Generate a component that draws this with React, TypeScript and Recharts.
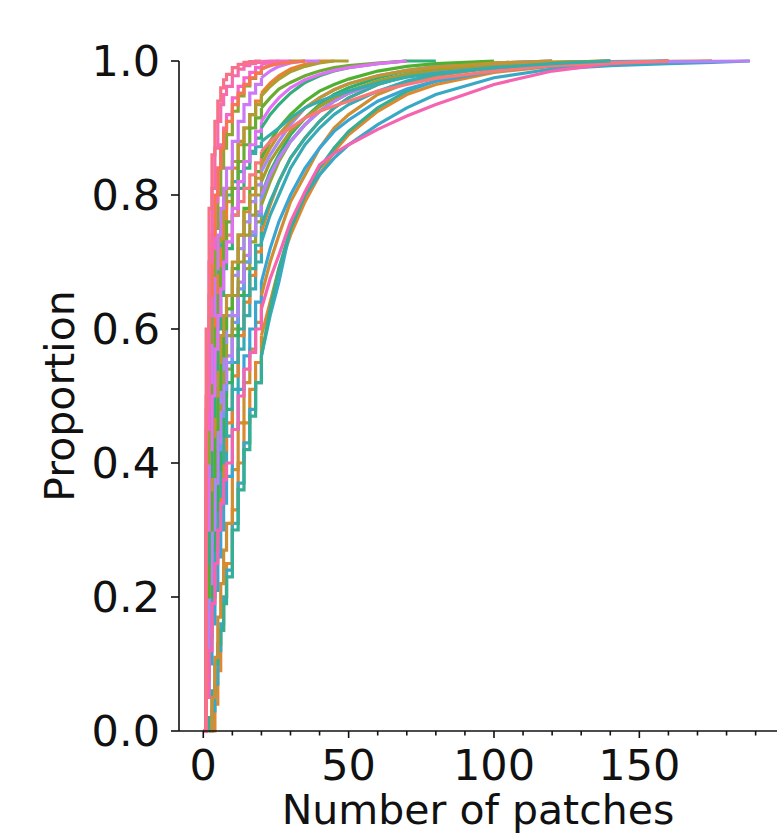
import React from 'react';
import { LineChart, Line, XAxis, YAxis } from 'recharts';

// shared x grid (number of patches) at which each ECDF value is read
const X_GRID = [0, 1, 2, 3, 4, 5, 6, 7, 8, 10, 12, 14, 16, 18, 20, 23, 26, 30, 35, 40, 45, 50, 60, 70, 80, 100, 120, 140, 160, 175, 188];
// beyond this x the steps are tiny, so the tail is drawn as a joined line
const STEP_LIMIT = 20;

const _ = null;

const S01 = [0, .6, .78, .86, .91, .94, .96, .972, .98, .99, .995, .998, .999, 1, 1];
const S02 = [0, .48, .7, .81, .87, .91, .935, .95, .962, .978, .988, .993, .996, .998, .999, 1, 1];
const S03 = [0, .45, .62, .72, .79, .84, .875, .9, .92, .945, .962, .975, .983, .99, .995, .998, 1, 1];
const S04 = [0, .4, .58, .68, .75, .8, .84, .87, .89, .925, .948, .963, .974, .982, .988, .994, .997, 1, 1];
const S05 = [0, .38, .52, .62, .69, .74, .78, .81, .84, .88, .91, .935, .952, .965, .975, .985, .992, .997, 1, 1];
const S06 = [0, .3, .45, .55, .62, .68, .72, .76, .79, .84, .875, .9, .92, .94, .952, .967, .978, .988, .995, 1, 1];
const S07 = [0, .42, .55, .63, .69, .73, .76, .79, .81, .85, .88, .9, .92, .935, .948, .962, .973, .984, .992, .997, 1, 1];
const S08 = [0, .25, .38, .47, .54, .6, .65, .69, .72, .77, .81, .84, .865, .885, .9, .92, .935, .952, .968, .978, .985, .99, .996, 1, 1];
const S09 = [0, .35, .5, .6, .67, .72, .76, .78, .8, .82, .835, .85, .862, .872, .88, .89, .9, .915, .93, .94, .948, .955, .967, .976, .982, .99, .996, 1];
const S10 = [0, .3, .45, .55, .62, .66, .69, .72, .74, .77, .79, .81, .83, .848, .865, .88, .89, .9, .915, .925, .933, .94, .955, .965, .974, .985, .993, .997, 1];
const S11 = [0, .05, .12, .19, .25, .3, .34, .375, .4, .45, .5, .54, .565, .6, .63, .675, .71, .76, .805, .845, .862, .875, .898, .918, .935, .965, .985, .996, 1];
const S12 = [_, _, 0, .03, .07, .12, .16, .2, .24, .31, .37, .43, .48, .52, .56, .62, .67, .75, .8, .83, .855, .875, .905, .93, .95, .975, .988, .993, .996, .998, 1];
const S13 = [_, _, _, 0, .04, .09, .15, .2, .25, .33, .4, .46, .51, .55, .59, .64, .69, .74, .79, .83, .865, .89, .925, .95, .965, .983, .992, .996, .998, 1];
const S14 = [_, 0, .02, .06, .1, .13, .15, .19, .23, .3, .36, .42, .47, .52, .56, .63, .69, .75, .8, .84, .87, .895, .93, .955, .97, .986, .994, .998, 1];
const S15 = [0, .2, .3, .38, .45, .51, .56, .6, .63, .69, .74, .78, .81, .835, .855, .88, .9, .92, .94, .955, .965, .973, .985, .992, .996, 1];
const S16 = [0, .15, .24, .31, .37, .42, .47, .51, .55, .61, .66, .7, .74, .77, .795, .83, .855, .88, .905, .925, .94, .952, .968, .978, .985, .993, .997, 1];
const S17 = [0, .25, .36, .44, .5, .55, .59, .62, .65, .7, .74, .775, .8, .825, .845, .87, .89, .91, .93, .945, .957, .966, .978, .986, .991, .997, 1];
const S18 = [0, .1, .2, .28, .35, .41, .46, .5, .54, .6, .65, .69, .73, .76, .785, .82, .85, .88, .905, .925, .94, .952, .97, .98, .987, .994, .998, 1];
const S19 = [0, .12, .2, .27, .33, .39, .44, .48, .52, .59, .65, .7, .74, .77, .8, .835, .86, .89, .915, .935, .95, .96, .975, .985, .991, .997, 1];
const S20 = [0, .05, .1, .16, .21, .26, .3, .34, .38, .45, .51, .56, .6, .64, .67, .72, .76, .8, .84, .87, .895, .912, .94, .958, .97, .985, .993, .997, 1];
const S21 = [0, .08, .15, .22, .28, .33, .38, .42, .46, .53, .59, .64, .68, .715, .745, .785, .82, .855, .885, .91, .93, .945, .965, .978, .986, .994, .998, 1];
const S22 = [0, .18, .28, .36, .43, .49, .54, .58, .62, .68, .72, .76, .79, .815, .835, .86, .88, .905, .93, .945, .957, .966, .978, .986, .992, .997, 1];
const S23 = [_, _, 0, .05, .11, .17, .22, .27, .31, .39, .46, .52, .57, .61, .65, .7, .74, .79, .83, .87, .9, .92, .95, .967, .978, .99, .996, .999, .9995, 1];
const S24 = [0, .1, .17, .24, .3, .35, .4, .44, .48, .55, .6, .65, .69, .725, .755, .79, .82, .855, .885, .91, .93, .945, .965, .977, .985, .993, .997, 1];
const S25 = [0, .3, .42, .5, .57, .62, .66, .7, .73, .78, .82, .85, .875, .895, .91, .93, .945, .96, .972, .98, .986, .99, .996, 1];
const S26 = [0, .5, .65, .74, .8, .84, .87, .895, .91, .935, .952, .965, .975, .982, .988, .993, .996, .998, 1];
const S27 = [0, .3, .44, .53, .6, .65, .69, .73, .76, .81, .85, .875, .9, .915, .93, .945, .958, .968, .978, .985, .99, .993, .997, 1];
const S28 = [0, .08, .14, .2, .26, .31, .36, .4, .44, .51, .57, .62, .66, .7, .73, .77, .8, .84, .875, .9, .92, .935, .955, .97, .98, .99, .996, .999, 1];
const S29 = [0, .12, .22, .3, .37, .43, .48, .52, .56, .62, .67, .71, .745, .775, .8, .83, .855, .88, .905, .925, .94, .952, .968, .978, .985, .993, .997, .998, .999, .9995, 1];
const S30 = [0, .2, .3, .37, .43, .48, .52, .56, .59, .65, .7, .74, .77, .8, .82, .85, .87, .895, .915, .932, .945, .955, .97, .98, .987, .994, .998, 1];

const SERIES = [
  { id: 's13', ys: S13, color: '#dc8932' },
  { id: 's12', ys: S12, color: '#38a8c4' },
  { id: 's14', ys: S14, color: '#35ae93' },
  { id: 's23', ys: S23, color: '#d08e32' },
  { id: 's20', ys: S20, color: '#3aa5d4' },
  { id: 's28', ys: S28, color: '#37abb5' },
  { id: 's21', ys: S21, color: '#e68332' },
  { id: 's24', ys: S24, color: '#36ada4' },
  { id: 's18', ys: S18, color: '#97a431' },
  { id: 's19', ys: S19, color: '#32b166' },
  { id: 's16', ys: S16, color: '#6e9bf4' },
  { id: 's29', ys: S29, color: '#b981f4' },
  { id: 's30', ys: S30, color: '#a39c31' },
  { id: 's22', ys: S22, color: '#a48cf4' },
  { id: 's15', ys: S15, color: '#50b131' },
  { id: 's17', ys: S17, color: '#c39532' },
  { id: 's08', ys: S08, color: '#33b07a' },
  { id: 's11', ys: S11, color: '#f564b0' },
  { id: 's10', ys: S10, color: '#f7797a' },
  { id: 's09', ys: S09, color: '#36adab' },
  { id: 's06', ys: S06, color: '#ee7f32' },
  { id: 's07', ys: S07, color: '#ae9d31' },
  { id: 's27', ys: S27, color: '#6aac31' },
  { id: 's25', ys: S25, color: '#e070f4' },
  { id: 's05', ys: S05, color: '#cc7af4' },
  { id: 's04', ys: S04, color: '#8ea531' },
  { id: 's03', ys: S03, color: '#f565cc' },
  { id: 's26', ys: S26, color: '#f7754f' },
  { id: 's02', ys: S02, color: '#f66bad' },
  { id: 's01', ys: S01, color: '#f77189' },
];

const X_TICKS = [0, 10, 20, 30, 40, 50, 60, 70, 80, 90, 100, 110, 120, 130, 140, 150, 160, 170, 180, 190];
const Y_TICKS = [0, 0.2, 0.4, 0.6, 0.8, 1.0];

const INK = '#111111';
const FONT = 'DejaVu Sans';

const toPoints = (ys: (number | null)[]) =>
  ys.map((y, i) => ({ x: X_GRID[i], y })).filter((p) => p.y !== null);

const headPoints = (ys: (number | null)[]) => toPoints(ys).filter((p) => p.x <= STEP_LIMIT);
const tailPoints = (ys: (number | null)[]) => toPoints(ys).filter((p) => p.x >= STEP_LIMIT);

const XTick = (props: any) => {
  const { x, y, payload } = props;
  const major = payload.value % 50 === 0;
  return (
    <g>
      <line x1={x} x2={x} y1={y} y2={y + (major ? 7 : 4.5)} stroke={INK} strokeWidth={1.6} />
      {major && (
        <text x={x} y={y + 49} textAnchor="middle" fontSize={43} fontFamily={FONT} fill={INK}>
          {payload.value}
        </text>
      )}
    </g>
  );
};

const XLabel = (props: any) => {
  const vb = props.viewBox || { x: 179, y: 731, width: 598, height: 104 };
  return (
    <text x={vb.x + vb.width / 2} y={vb.y + 93} textAnchor="middle" fontSize={41} fontFamily={FONT} fill={INK}>
      Number of patches
    </text>
  );
};

const YLabel = (props: any) => {
  const vb = props.viewBox || { x: 0, y: 61, width: 179, height: 670 };
  const cx = 74;
  const cy = vb.y + vb.height / 2;
  return (
    <text x={cx} y={cy} textAnchor="middle" fontSize={41} fontFamily={FONT} fill={INK} transform={`rotate(-90, ${cx}, ${cy})`}>
      Proportion
    </text>
  );
};

export default function App() {
  const tails = SERIES.map((s) => ({ ...s, pts: tailPoints(s.ys) })).filter((s) => s.pts.length >= 2);
  return (
    <div style={{ position: 'absolute', left: 0, top: 0, width: 778, height: 835, background: '#fff' }}>
      <LineChart width={778} height={835} margin={{ top: 61, right: 1, bottom: 0, left: 0 }}>
        <XAxis
          type="number"
          dataKey="x"
          domain={[-8.35, 197.35]}
          ticks={X_TICKS}
          interval={0}
          tickSize={0}
          tickMargin={0}
          tickLine={false}
          tick={<XTick />}
          axisLine={{ stroke: INK, strokeWidth: 1.6 }}
          height={104}
          label={<XLabel />}
        />
        <YAxis
          type="number"
          dataKey="y"
          domain={[0, 1]}
          ticks={Y_TICKS}
          interval={0}
          tickFormatter={(v: number) => v.toFixed(1)}
          tickSize={8}
          tickMargin={11}
          tickLine={{ stroke: INK, strokeWidth: 1.6 }}
          tick={{ fontSize: 43, fill: INK, fontFamily: FONT }}
          axisLine={{ stroke: INK, strokeWidth: 1.6 }}
          width={179}
          label={<YLabel />}
        />
        {SERIES.map((s) => (
          <Line
            key={s.id + '-head'}
            data={headPoints(s.ys)}
            dataKey="y"
            type="stepAfter"
            stroke={s.color}
            strokeWidth={3.2}
            dot={false}
            activeDot={false}
            isAnimationActive={false}
          />
        ))}
        {tails.map((s) => (
          <Line
            key={s.id + '-tail'}
            data={s.pts}
            dataKey="y"
            type="linear"
            stroke={s.color}
            strokeWidth={3.2}
            dot={false}
            activeDot={false}
            isAnimationActive={false}
          />
        ))}
      </LineChart>
    </div>
  );
}
